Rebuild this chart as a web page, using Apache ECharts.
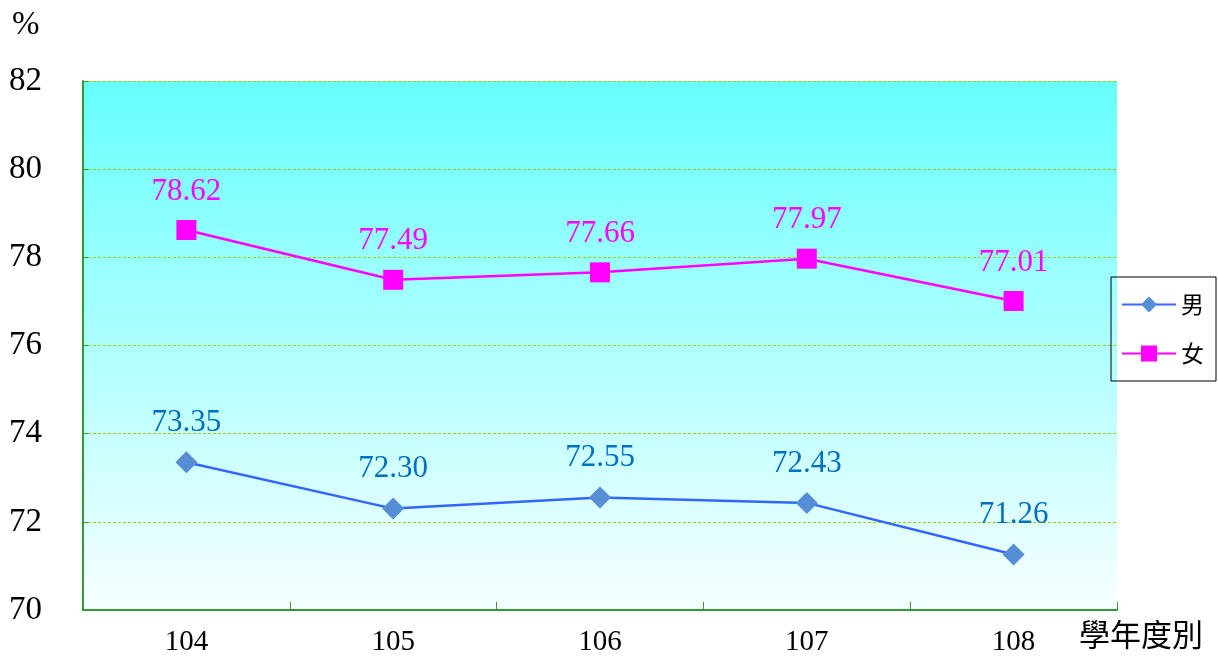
<!DOCTYPE html>
<html>
<head>
<meta charset="utf-8">
<script src="https://cdn.jsdelivr.net/npm/echarts@6/dist/echarts.min.js"></script>
<style>html,body{margin:0;padding:0;background:#fff;}#c{width:1218px;height:658px;}</style>
</head>
<body>
<div id="c"></div>
<script>
const categories = ['104', '105', '106', '107', '108'];
const maleValues = [73.35, 72.30, 72.55, 72.43, 71.26];
const femaleValues = [78.62, 77.49, 77.66, 77.97, 77.01];
const seriesNames = ['男', '女'];

const chart = echarts.init(document.getElementById('c'));
chart.setOption({
  animation: false,
  backgroundColor: '#ffffff',
  grid: {
    left: 83, right: 101, top: 81, bottom: 48,
    show: true, borderWidth: 0,
    backgroundColor: new echarts.graphic.LinearGradient(0, 0, 0, 1, [
      {offset: 0, color: '#66FFFF'},
      {offset: 1, color: '#F7FFFF'}
    ])
  },
  graphic: [
    {type: 'text', left: 12, top: 9, style: {text: '%', font: '33px "Liberation Serif"', fill: '#000'}},
    {type: 'text', left: 1079, top: 619, style: {text: '學年度別', font: '31px "Noto Sans CJK TC"', fill: '#000'}}
  ],
  legend: {
    orient: 'vertical',
    left: 1111, top: 277,
    width: 105,
    data: seriesNames,
    borderColor: '#000', borderWidth: 1, borderRadius: 0,
    padding: [16, 12, 16, 10],
    itemWidth: 54, itemHeight: 20, itemGap: 26,
    textStyle: {fontFamily: '"Noto Sans CJK TC"', fontSize: 23, color: '#000'}
  },
  xAxis: {
    type: 'category',
    data: categories,
    boundaryGap: true,
    axisLine: {lineStyle: {color: '#339933', width: 2}},
    axisTick: {show: true, inside: true, length: 8, lineStyle: {color: '#339933', width: 1}},
    axisLabel: {fontFamily: '"Liberation Serif"', fontSize: 29, color: '#000', margin: 18}
  },
  yAxis: {
    type: 'value',
    min: 70, max: 82, interval: 2,
    axisLine: {show: true, lineStyle: {color: '#339933', width: 2}},
    axisTick: {show: true, inside: true, length: 5, lineStyle: {color: '#339933'}},
    splitLine: {show: true, lineStyle: {color: '#A5CC00', type: [3, 2], width: 1.2}},
    axisLabel: {fontFamily: '"Liberation Serif"', fontSize: 33, color: '#000', margin: 41, align: 'right',
      formatter: v => v}
  },
  series: [
    {
      name: seriesNames[0], type: 'line', data: maleValues,
      symbol: 'diamond', symbolSize: 22,
      lineStyle: {color: '#3366FF', width: 2.5},
      itemStyle: {color: '#558ED5'},
      label: {show: true, position: 'top', distance: 13, color: '#0070C0',
        fontFamily: '"Liberation Serif"', fontSize: 31, formatter: p => p.value.toFixed(2)}
    },
    {
      name: seriesNames[1], type: 'line', data: femaleValues,
      symbol: 'rect', symbolSize: 20,
      lineStyle: {color: '#FF00FF', width: 2.5},
      itemStyle: {color: '#FF00FF'},
      label: {show: true, position: 'top', distance: 13, color: '#FF00FF',
        fontFamily: '"Liberation Serif"', fontSize: 31, formatter: p => p.value.toFixed(2)}
    }
  ]
});
</script>
</body>
</html>
